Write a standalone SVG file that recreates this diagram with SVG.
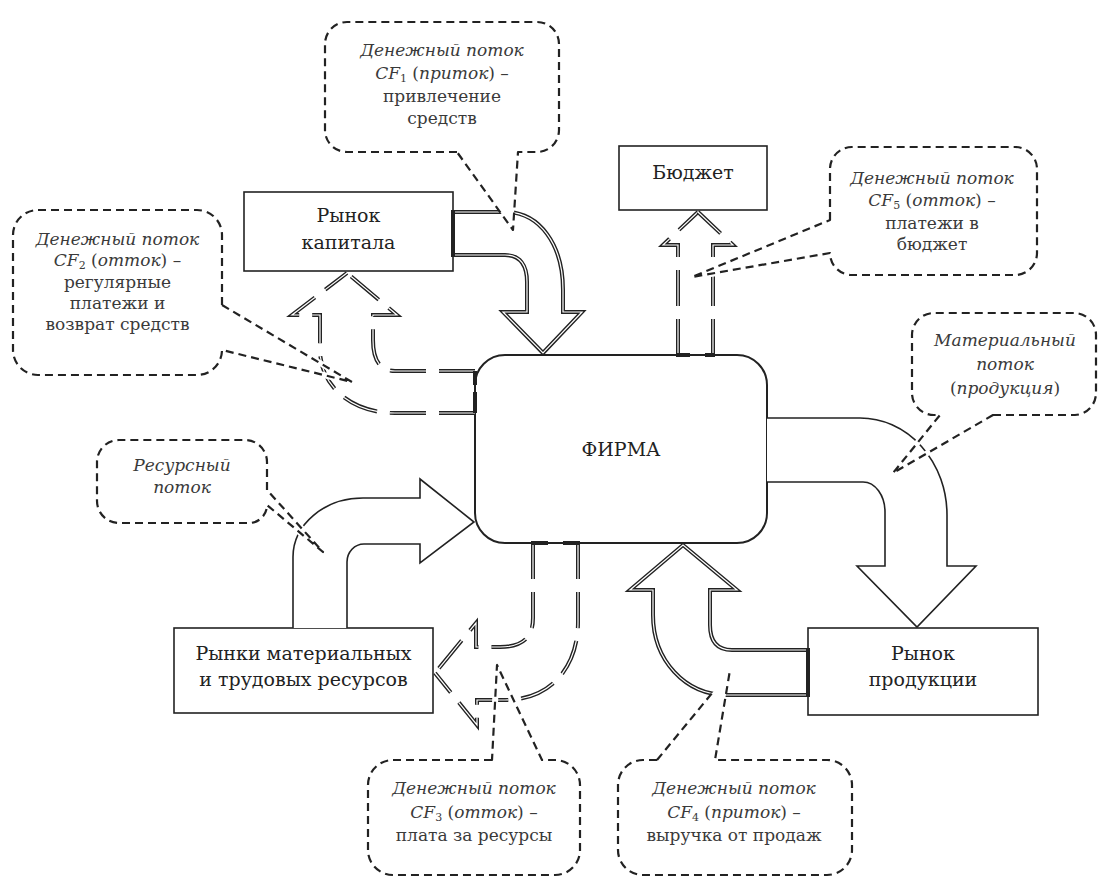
<svg xmlns="http://www.w3.org/2000/svg" width="1099" height="878" viewBox="0 0 1099 878">
<style>
text { font-family: "DejaVu Serif", "Liberation Serif", "Times New Roman", Times, serif; }
.box { fill:#fff; stroke:#222; stroke-width:1.6; }
.firm { fill:#fff; stroke:#222; stroke-width:2; }
.lbl { font-size:19px; fill:#222; text-anchor:middle; }
.ct { font-size:17px; fill:#3a3a3a; text-anchor:middle; font-style:italic; }
.up { font-style:normal; }
.sub { font-size:11px; font-style:normal; }
.callout { fill:none; stroke:#222; stroke-width:2.2; stroke-dasharray:8 5; stroke-linejoin:round; }
.under { fill:none; stroke:#fff; stroke-width:6; }
.wedge { fill:#fff; stroke:none; }
.dk { fill:none; stroke:#222; stroke-width:4; stroke-linejoin:miter; }
.wt { fill:none; stroke:#fff; stroke-width:1.2; stroke-linejoin:miter; }
.dsh { stroke-dasharray:36 13; }
.thin { fill:#fff; stroke:#222; stroke-width:1.6; stroke-linejoin:miter; }
.bar { stroke:#222; stroke-width:4; fill:none; }
</style>
<defs>
<path id="p-cf1" d="M 453 212 L 505 212 C 540 212 563 245 563 290 L 563 312 L 582 312 L 543 353 L 503 312 L 527 312 L 527 282 C 527 265 520 255 505 255 L 453 255"/>
<path id="p-cf4" d="M 808 695 L 727 695 C 685 695 653 660 653 615 L 653 590 L 630 590 L 683 545 L 737 590 L 710 590 L 710 625 C 710 642 718 650 732 650 L 808 650"/>
<path id="p-cf2a" d="M 475 371 L 395 371 C 380 371 373 360 373 340 L 373 315 L 397 315 L 347 273"/>
<path id="p-cf2b" d="M 475 413 L 395 413 C 350 413 320 385 320 350 L 320 315 L 292 315 L 347 273"/>
<path id="p-cf5a" d="M 678 355 L 678 245 L 663 245 L 698 212"/>
<path id="p-cf5b" d="M 713 355 L 713 245 L 733 245 L 698 212"/>
<path id="p-cf3a" d="M 533 543 L 533 618 C 533 638 522 647 500 647 L 476 647 L 476 623 L 435 673"/>
<path id="p-cf3b" d="M 578 543 L 578 622 C 578 668 550 700 505 700 L 477 700 L 477 725 L 435 673"/>
</defs>

<g id="firm">
<rect class="firm" x="475" y="355" width="292" height="188" rx="30" ry="30"/>
<text class="lbl" x="621" y="456" font-size="23">ФИРМА</text>
</g>
<g id="capital-market">
<rect class="box" x="244" y="192" width="209" height="79"/>
<text class="lbl" x="348.5" y="222">Рынок</text>
<text class="lbl" x="348.5" y="249">капитала</text>
</g>
<g id="budget">
<rect class="box" x="619" y="146" width="148" height="64"/>
<text class="lbl" x="693" y="179">Бюджет</text>
</g>
<g id="resource-markets">
<rect class="box" x="174" y="628" width="259" height="85"/>
<text class="lbl" x="303.5" y="660">Рынки материальных</text>
<text class="lbl" x="303.5" y="686">и трудовых ресурсов</text>
</g>
<g id="product-market">
<rect class="box" x="808" y="628" width="230" height="87"/>
<text class="lbl" x="923" y="660">Рынок</text>
<text class="lbl" x="923" y="686">продукции</text>
</g>

<g id="connectors">
<use href="#p-cf1" class="dk"/><use href="#p-cf1" class="wt"/>
<line class="bar" x1="453" y1="210" x2="453" y2="257"/>
<use href="#p-cf4" class="dk"/><use href="#p-cf4" class="wt"/>
<line class="bar" x1="808" y1="648" x2="808" y2="697"/>
<use href="#p-cf2a" class="dk dsh"/><use href="#p-cf2a" class="wt dsh"/>
<use href="#p-cf2b" class="dk dsh"/><use href="#p-cf2b" class="wt dsh"/>
<line class="bar" x1="475" y1="371" x2="475" y2="385"/>
<line class="bar" x1="475" y1="392" x2="475" y2="413"/>
<use href="#p-cf5a" class="dk dsh"/><use href="#p-cf5a" class="wt dsh"/>
<use href="#p-cf5b" class="dk dsh"/><use href="#p-cf5b" class="wt dsh"/>
<line class="bar" x1="676" y1="355" x2="690" y2="355"/>
<line class="bar" x1="705" y1="355" x2="715" y2="355"/>
<use href="#p-cf3a" class="dk dsh"/><use href="#p-cf3a" class="wt dsh"/>
<use href="#p-cf3b" class="dk dsh"/><use href="#p-cf3b" class="wt dsh"/>
<line class="bar" x1="531" y1="543" x2="548" y2="543"/>
<line class="bar" x1="563" y1="543" x2="580" y2="543"/>
<path class="thin" d="M 767 418 L 860 418 A 87 97 0 0 1 947 515 L 947 566 L 976 566 L 917 627 L 857 566 L 885 566 L 885 512 A 22 30 0 0 0 863 482 L 767 482"/>
<path class="thin" d="M 293 628 L 293 557 A 70 59 0 0 1 363 498 L 420 498 L 420 479 L 474 522 L 420 563 L 420 544 L 364 544 A 17 18 0 0 0 347 562 L 347 628"/>
</g>

<g id="callout-cf1">
<polygon class="wedge" points="457,152 513,230 518,152"/>
<path class="callout" d="M 457 152 L 347 152 A 22 22 0 0 1 325 130 L 325 44 A 22 22 0 0 1 347 22 L 537 22 A 22 22 0 0 1 559 44 L 559 130 A 22 22 0 0 1 537 152 L 518 152 L 513 230 Z"/>
<text class="ct" x="442" y="56">Денежный поток</text>
<text class="ct" x="442" y="79">CF<tspan class="sub" dy="3">1</tspan><tspan class="up" dy="-3"> (</tspan>приток<tspan class="up">) –</tspan></text>
<text class="ct up" x="442" y="102">привлечение</text>
<text class="ct up" x="442" y="124">средств</text>
</g>

<g id="callout-cf2">
<line class="under" x1="222" y1="305" x2="352" y2="382"/>
<line class="under" x1="222" y1="350" x2="352" y2="382"/>
<path class="callout" d="M 222 305 L 222 235 A 25 25 0 0 0 197 210 L 38 210 A 25 25 0 0 0 13 235 L 13 350 A 25 25 0 0 0 38 375 L 197 375 A 25 25 0 0 0 222 350 L 352 382 Z"/>
<text class="ct" x="117.5" y="245">Денежный поток</text>
<text class="ct" x="117.5" y="266">CF<tspan class="sub" dy="3">2</tspan><tspan class="up" dy="-3"> (</tspan>отток<tspan class="up">) –</tspan></text>
<text class="ct up" x="117.5" y="288">регулярные</text>
<text class="ct up" x="117.5" y="309">платежи и</text>
<text class="ct up" x="117.5" y="330">возврат средств</text>
</g>

<g id="callout-cf5">
<line class="under" x1="830" y1="220" x2="692" y2="277"/>
<line class="under" x1="830" y1="255" x2="692" y2="277"/>
<path class="callout" d="M 830 220 L 830 169 A 22 22 0 0 1 852 147 L 1015 147 A 22 22 0 0 1 1037 169 L 1037 253 A 22 22 0 0 1 1015 275 L 852 275 A 22 22 0 0 1 830 253 L 692 277 Z"/>
<text class="ct" x="932" y="184">Денежный поток</text>
<text class="ct" x="932" y="206">CF<tspan class="sub" dy="3">5</tspan><tspan class="up" dy="-3"> (</tspan>отток<tspan class="up">) –</tspan></text>
<text class="ct up" x="932" y="229">платежи в</text>
<text class="ct up" x="932" y="250">бюджет</text>
</g>

<g id="callout-material">
<line class="under" x1="940" y1="415" x2="893" y2="473"/>
<line class="under" x1="993" y1="415" x2="893" y2="473"/>
<path class="callout" d="M 993 415 L 1075 415 A 22 22 0 0 0 1096 393 L 1096 335 A 22 22 0 0 0 1075 313 L 934 313 A 22 22 0 0 0 912 335 L 912 393 A 22 22 0 0 0 934 415 L 940 415 L 893 473 Z"/>
<text class="ct" x="1005" y="346">Материальный</text>
<text class="ct" x="1005" y="370">поток</text>
<text class="ct" x="1005" y="394"><tspan class="up">(</tspan>продукция<tspan class="up">)</tspan></text>
</g>

<g id="callout-resource">
<line class="under" x1="267" y1="490" x2="323" y2="552"/>
<line class="under" x1="267" y1="505" x2="323" y2="552"/>
<path class="callout" d="M 267 490 L 267 462 A 22 22 0 0 0 245 440 L 119 440 A 22 22 0 0 0 97 462 L 97 501 A 22 22 0 0 0 119 523 L 249 523 A 18 18 0 0 0 267 505 L 323 552 Z"/>
<text class="ct" x="182" y="471">Ресурсный</text>
<text class="ct" x="182" y="493">поток</text>
</g>

<g id="callout-cf3">
<line class="under" x1="492" y1="760" x2="497" y2="665"/>
<line class="under" x1="542" y1="760" x2="497" y2="665"/>
<path class="callout" d="M 492 760 L 393 760 A 25 25 0 0 0 368 785 L 368 850 A 25 25 0 0 0 393 875 L 555 875 A 25 25 0 0 0 580 850 L 580 785 A 25 25 0 0 0 555 760 L 542 760 L 497 665 Z"/>
<text class="ct" x="474" y="794">Денежный поток</text>
<text class="ct" x="474" y="818">CF<tspan class="sub" dy="3">3</tspan><tspan class="up" dy="-3"> (</tspan>отток<tspan class="up">) –</tspan></text>
<text class="ct up" x="474" y="841">плата за ресурсы</text>
</g>

<g id="callout-cf4">
<polygon class="wedge" points="657,760 713,692 730,670 715,760"/>
<path class="callout" d="M 657 760 L 643 760 A 25 25 0 0 0 618 785 L 618 850 A 25 25 0 0 0 643 875 L 827 875 A 25 25 0 0 0 852 850 L 852 785 A 25 25 0 0 0 827 760 L 715 760 L 730 670 M 657 760 L 713 692"/>
<text class="ct" x="734" y="794">Денежный поток</text>
<text class="ct" x="734" y="818">CF<tspan class="sub" dy="3">4</tspan><tspan class="up" dy="-3"> (</tspan>приток<tspan class="up">) –</tspan></text>
<text class="ct up" x="734" y="841">выручка от продаж</text>
</g>
</svg>
